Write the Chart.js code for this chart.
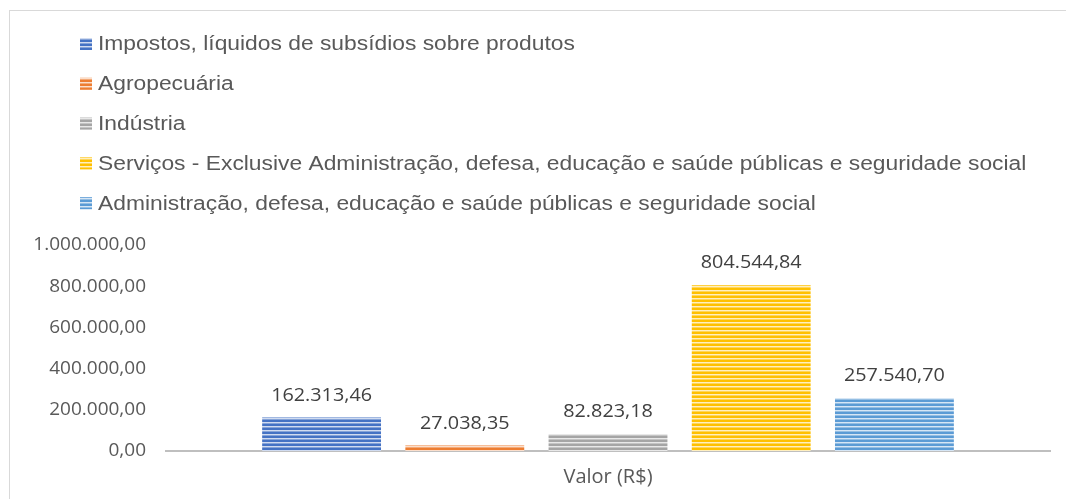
<!DOCTYPE html>
<html>
<head>
<meta charset="utf-8">
<script src="https://cdn.jsdelivr.net/npm/chart.js@4"></script>
<style>
  html, body { margin: 0; padding: 0; background: #fff; }
  #wrap { position: relative; width: 1066px; height: 499px; }
</style>
</head>
<body>
<div id="wrap"><canvas id="chart" width="1066" height="499"></canvas></div>
<script>
const categories = ["Valor (R$)"];
const seriesNames = [
  "Impostos, líquidos de subsídios sobre produtos",
  "Agropecuária",
  "Indústria",
  "Serviços - Exclusive Administração, defesa, educação e saúde públicas e seguridade social",
  "Administração, defesa, educação e saúde públicas e seguridade social"
];
const seriesValues = [162313.46, 27038.35, 82823.18, 804544.84, 257540.70];
const seriesColors = ["#4472C4", "#ED7D31", "#A5A5A5", "#FFC000", "#5B9BD5"];
const yTicks = [0, 200000, 400000, 600000, 800000, 1000000];

// pt-BR number format: 1.234.567,89
function fmt(v) {
  const parts = Math.abs(v).toFixed(2).split(".");
  const int = parts[0].replace(/\B(?=(\d{3})+(?!\d))/g, ".");
  return (v < 0 ? "-" : "") + int + "," + parts[1];
}

// horizontal stripe fill like the original
function stripes(color) {
  const c = document.createElement("canvas");
  c.width = 4; c.height = 4;
  const g = c.getContext("2d");
  g.fillStyle = color;
  g.fillRect(0, 0, 4, 4);
  g.fillStyle = "rgba(255,255,255,0.75)";
  g.fillRect(0, 2, 4, 1);
  g.fillStyle = "rgba(255,255,255,0.35)";
  g.fillRect(0, 3, 4, 1);
  return g.createPattern(c, "repeat");
}

const frame = {
  id: "frame",
  beforeDraw(chart) {
    const g = chart.ctx;
    g.save();
    g.fillStyle = "#d9d9d9";
    g.fillRect(9, 10, 1, chart.height - 10);
    g.fillRect(9, 10, chart.width - 9, 1);
    g.restore();
  }
};

// the source picture is a bit wider than tall, so text is stretched sideways
const legendList = {
  id: "legendList",
  afterDraw(chart) {
    const g = chart.ctx;
    g.save();
    g.font = "19.5px 'Liberation Sans', Arial, sans-serif";
    g.textBaseline = "middle";
    chart.data.datasets.forEach((ds, i) => {
      const y = 44 + i * 39.8;
      g.fillStyle = ds.backgroundColor;
      g.fillRect(80, y - 6, 12, 12);
      g.save();
      g.translate(98, y + 1);
      g.scale(1.17, 1);
      g.fillStyle = "#595959";
      g.fillText(ds.label, 0, 0);
      g.restore();
    });
    g.restore();
  }
};

const valueLabels = {
  id: "valueLabels",
  afterDatasetsDraw(chart) {
    const g = chart.ctx;
    g.save();
    g.font = "18px 'Open Sans', sans-serif";
    g.fillStyle = "#404040";
    g.textAlign = "center";
    g.textBaseline = "middle";
    chart.data.datasets.forEach((ds, i) => {
      chart.getDatasetMeta(i).data.forEach((bar, j) => {
        g.save();
        g.translate(bar.x, bar.y - 22);
        g.scale(1.1, 1);
        g.fillText(fmt(ds.data[j]), 0, 0);
        g.restore();
      });
    });
    g.restore();
  }
};

const ctx = document.getElementById("chart").getContext("2d");

new Chart(ctx, {
  type: "bar",
  data: {
    labels: categories,
    datasets: seriesNames.map((name, i) => ({
      label: name,
      data: [seriesValues[i]],
      backgroundColor: stripes(seriesColors[i]),
      borderWidth: 0
    }))
  },
  options: {
    responsive: false,
    animation: false,
    devicePixelRatio: 1,
    categoryPercentage: 0.81,
    barPercentage: 0.83,
    layout: { padding: { top: 245, right: 16, bottom: 0, left: 0 } },
    plugins: {
      legend: { display: false },
      tooltip: { enabled: false }
    },
    scales: {
      x: {
        afterFit(scale) { scale.height = 48; },
        grid: { display: false, drawTicks: false },
        border: { display: true, color: "#bfbfbf", width: 2 },
        ticks: { color: "#595959", font: { family: "Open Sans", size: 20 }, padding: 14 }
      },
      y: {
        min: 0,
        max: 1000000,
        afterFit(scale) { scale.width = 166; },
        afterBuildTicks(scale) { scale.ticks = yTicks.map(v => ({ value: v })); },
        grid: { display: false, drawTicks: false },
        border: { display: false },
        ticks: {
          color: "#595959",
          font: { family: "Open Sans", size: 19 },
          padding: 20,
          callback: v => fmt(v)
        }
      }
    }
  },
  plugins: [frame, legendList, valueLabels]
});
</script>
</body>
</html>
